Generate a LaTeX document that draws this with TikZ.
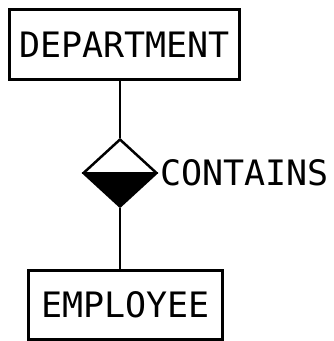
\documentclass[tikz,border=0pt]{standalone}
\usepackage{fontspec}
\setmonofont{DejaVu Sans Mono}
\usetikzlibrary{shapes.geometric}

\begin{document}
\begin{tikzpicture}[x=1pt,y=-1pt,line width=2.5pt,
    every node/.style={font=\fontsize{35}{37}\selectfont\ttfamily},
    entity/.style={draw,inner sep=0pt}]
                \useasboundingbox (0,0) rectangle (333,341);

                \node[entity,minimum width=230,minimum height=70] (dept) at (124.5,44.5) {DEPARTMENT};

                \node[draw,diamond,inner sep=0pt,minimum width=74,minimum height=68,
                    path picture={\fill (path picture bounding box.west) rectangle (path picture bounding box.south east);}]
                    (rel) at (120,173) {};
                \draw (rel.west) -- (rel.east);
                \node[anchor=west,inner sep=1pt] (lbl) at (rel.east) {CONTAINS};

                \node[entity,minimum width=194,minimum height=69] (emp) at (125.5,305) {EMPLOYEE};

                \draw (dept.south -| rel.north) -- (rel.north);
                \draw (rel.south) -- (emp.north -| rel.south);
            \end{tikzpicture}
\end{document}
